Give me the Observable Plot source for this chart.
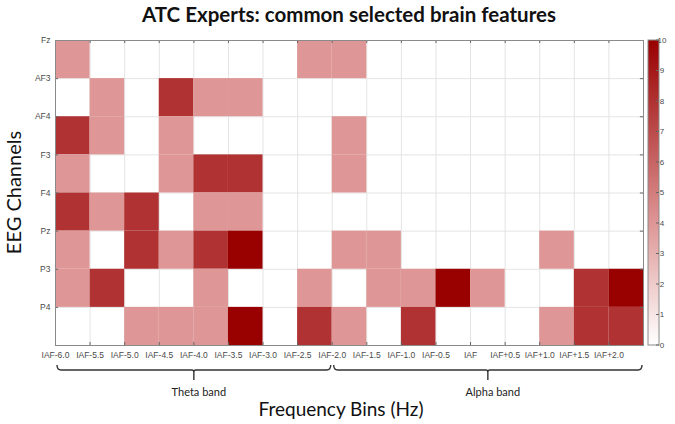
<!DOCTYPE html>
<html><head><meta charset="utf-8">
<script src="https://cdn.jsdelivr.net/npm/d3@7"></script>
<script src="https://cdn.jsdelivr.net/npm/@observablehq/plot@0.6"></script>
<style>body{margin:0;background:#fff} svg{display:block}</style>
</head><body><div id="chart"></div>
<script>
const channels = ["Fz","AF3","AF4","F3","F4","Pz","P3","P4"];
const bins = ["IAF-6.0","IAF-5.5","IAF-5.0","IAF-4.5","IAF-4.0","IAF-3.5","IAF-3.0","IAF-2.5","IAF-2.0","IAF-1.5","IAF-1.0","IAF-0.5","IAF","IAF+0.5","IAF+1.0","IAF+1.5","IAF+2.0"];
const bandNames = ["Theta band","Alpha band"];
const bandStart = [0, 8];
const bandEnd = [8, 17];
const colorTicks = [0,1,2,3,4,5,6,7,8,9,10];
// number of experts selecting each feature, per channel (one value per frequency bin)
const Fz  = [4,0,0,0,0,0,0,4,4,0,0,0,0,0,0,0,0];
const AF3 = [0,4,0,8,4,4,0,0,0,0,0,0,0,0,0,0,0];
const AF4 = [8,4,0,4,0,0,0,0,4,0,0,0,0,0,0,0,0];
const F3  = [4,0,0,4,8,8,0,0,4,0,0,0,0,0,0,0,0];
const F4  = [8,4,8,0,4,4,0,0,0,0,0,0,0,0,0,0,0];
const Pz  = [4,0,8,4,8,10,0,0,4,4,0,0,0,0,4,0,0];
const P3  = [4,8,0,0,4,0,0,4,0,4,4,10,4,0,0,8,10];
const P4  = [0,0,4,4,4,10,0,8,4,0,8,0,0,0,4,8,8];
const counts = [Fz, AF3, AF4, F3, F4, Pz, P3, P4];

const cells = [];
counts.forEach((row, r) => row.forEach((v, c) => cells.push({r, c, v})));

const W = 675, H = 424;
const tickFont = "'Liberation Sans', Arial, sans-serif";
const plot = Plot.plot({
  width: W, height: H,
  marginLeft: 55, marginRight: 32, marginTop: 40, marginBottom: 79,
  style: {fontFamily: tickFont, background: "white", overflow: "visible"},
  x: {domain: [0, bins.length], axis: null},
  y: {domain: [0, channels.length], reverse: true, axis: null},
  color: {type: "linear", domain: [0, 4, 10], range: ["#ffffff", "#de9696", "#990000"], interpolate: "rgb"},
  marks: [
    Plot.ruleX(d3.range(1, bins.length), {stroke: "#e4e4e4", strokeWidth: 1}),
    Plot.ruleY(d3.range(1, channels.length), {stroke: "#e4e4e4", strokeWidth: 1}),
    Plot.rect(cells.filter(d => d.v > 0), {x1: "c", x2: d => d.c + 1, y1: "r", y2: d => d.r + 1, fill: "v"}),
    Plot.ruleX(d3.range(1, bins.length), {y1: 0, y2: 0.08, stroke: "#666"}),
    Plot.ruleX(d3.range(1, bins.length), {y1: channels.length - 0.08, y2: channels.length, stroke: "#666"}),
    Plot.ruleY(d3.range(1, channels.length), {x1: 0, x2: 0.09, stroke: "#666"}),
    Plot.ruleY(d3.range(1, channels.length), {x1: bins.length - 0.09, x2: bins.length, stroke: "#666"}),
    Plot.frame({stroke: "#8a8a8a"}),
    Plot.axisX(d3.range(bins.length), {anchor: "bottom", tickSize: 0, tickPadding: 6, tickFormat: i => bins[i], fontSize: 8.5, fill: "#4a4a4a", label: null}),
    Plot.axisY(d3.range(channels.length), {anchor: "left", tickSize: 0, tickPadding: 5, tickFormat: i => channels[i], fontSize: 8.5, fill: "#4a4a4a", label: null})
  ]
});
document.getElementById("chart").appendChild(plot);

const svg = d3.select(plot);
const xs = plot.scale("x"), ys = plot.scale("y"), cs = plot.scale("color");
const pLeft = xs.apply(0), pRight = xs.apply(bins.length);
const pTop = ys.apply(0), pBottom = ys.apply(channels.length);
const uiFont = "Lato, 'Open Sans', sans-serif";

// Title
svg.append("text").attr("x", (pLeft + pRight) / 2).attr("y", 22)
  .attr("text-anchor", "middle").attr("font-family", uiFont).attr("font-weight", "bold")
  .attr("font-size", 20.5).attr("fill", "#111").text("ATC Experts: common selected brain features");

// Y title
svg.append("text").attr("transform", `translate(21,${(pTop + pBottom) / 2}) rotate(-90)`)
  .attr("text-anchor", "middle").attr("font-family", uiFont)
  .attr("font-size", 20).attr("fill", "#111").text("EEG Channels");

// X title
svg.append("text").attr("x", 341).attr("y", 416)
  .attr("text-anchor", "middle").attr("font-family", uiFont)
  .attr("font-size", 19).attr("fill", "#111").text("Frequency Bins (Hz)");

// Braces
const by = 370;
bandNames.forEach((name, i) => {
  const x0 = xs.apply(bandStart[i]) + 2, x1 = xs.apply(bandEnd[i]) - 1;
  const m = (x0 + x1) / 2;
  const p = `M${x0},${by - 5} Q${x0},${by} ${x0 + 4},${by} L${m - 2},${by} Q${m},${by} ${m},${by + 2} L${m},${by + 10} M${m},${by + 2} Q${m},${by} ${m + 2},${by} L${x1 - 4},${by} Q${x1},${by} ${x1},${by - 5}`;
  svg.append("path").attr("d", p).attr("fill", "none").attr("stroke", "#333").attr("stroke-width", 1.4);
  svg.append("text").attr("x", m + 5).attr("y", 396).attr("text-anchor", "middle")
    .attr("font-family", uiFont).attr("font-size", 11).attr("fill", "#222").text(name);
});

// Colorbar
const cbX = 648, cbW = 11;
const grad = svg.append("defs").append("linearGradient").attr("id", "cbgrad")
  .attr("x1", 0).attr("y1", 1).attr("x2", 0).attr("y2", 0);
colorTicks.forEach(t => grad.append("stop").attr("offset", t / 10).attr("stop-color", cs.apply(t)));
svg.append("rect").attr("x", cbX).attr("y", pTop).attr("width", cbW).attr("height", pBottom - pTop)
  .attr("fill", "url(#cbgrad)").attr("stroke", "#8a8a8a").attr("stroke-width", 1);
const cy = d3.scaleLinear().domain([0, 10]).range([pBottom, pTop]);
colorTicks.forEach(t => {
  svg.append("line").attr("x1", cbX + cbW - 3).attr("x2", cbX + cbW).attr("y1", cy(t)).attr("y2", cy(t))
    .attr("stroke", "#666");
  svg.append("text").attr("x", cbX + cbW + 3).attr("y", cy(t)).attr("dy", "0.35em")
    .attr("font-family", tickFont).attr("font-size", 8).attr("fill", "#4a4a4a").text(t);
});
</script>
</body></html>
